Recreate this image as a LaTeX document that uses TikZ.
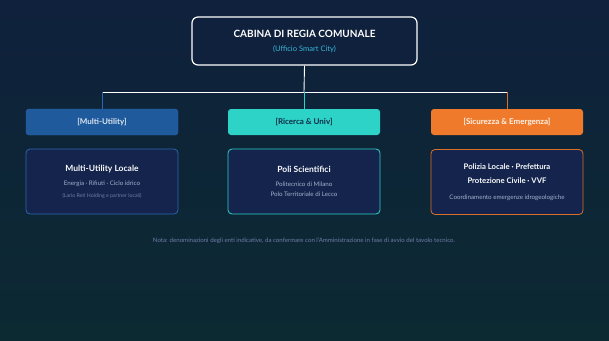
\documentclass[tikz,border=0pt]{standalone}
\usepackage{fontspec}
\setmainfont{Lato}
\usepackage{xcolor}
\usetikzlibrary{positioning}

\definecolor{bgtop}{HTML}{0F213C}
\definecolor{bgbot}{HTML}{0C2A32}
\definecolor{cardfill}{HTML}{14244C}
\definecolor{mublue}{HTML}{1F5A9C}
\definecolor{muline}{HTML}{2C66AE}
\definecolor{rteal}{HTML}{2DD3C6}
\definecolor{rtext}{HTML}{0E2A48}
\definecolor{sorange}{HTML}{F07A2B}
\definecolor{sline}{HTML}{D9702C}
\definecolor{subcyan}{HTML}{39B4D8}
\definecolor{softtxt}{HTML}{A3B2CE}
\definecolor{dimtxt}{HTML}{6E7EA8}

\tikzset{every node/.style={font=\small}}

\begin{document}
\begin{tikzpicture}[
  x=1pt, y=-1pt,
  header/.style={
    rectangle,
    rounded corners=3pt,
    minimum width=152pt,
    minimum height=26pt,
    inner sep=0pt,
    font=\bfseries\fontsize{8}{9}\selectfont
  },
  card/.style={
    draw,
    rectangle,
    rounded corners=4pt,
    fill=cardfill,
    line width=0.8pt,
    minimum width=152pt,
    minimum height=65pt,
    inner sep=0pt,
    align=center,
    text=softtxt,
    font=\fontsize{6.2}{10}\selectfont
  }
]

% background
\fill[top color=bgtop, bottom color=bgbot] (0,0) rectangle (609,340);

\node[draw=white, line width=1.2pt, rounded corners=6pt, fill=bgtop,
  minimum width=225pt, minimum height=48pt, align=center, inner sep=0pt]
  (top) at (304.5,41)
  {{\color{white}\bfseries\fontsize{10}{12}\selectfont CABINA DI REGIA COMUNALE}\\[3pt]
   {\color{subcyan}\fontsize{7.6}{8}\selectfont (Ufficio Smart City)}};

% headers
\node[header, fill=mublue, draw=muline, text=white!85!mublue] (hmu) at (102,122) {[Multi-Utility]};
\node[header, fill=rteal, text=rtext] (hru) at (304,122) {[Ricerca \& Univ]};
\node[header, fill=sorange, text=white!90!sorange] (hse) at (507,122) {[Sicurezza \& Emergenza]};

% cards
\node[card, draw=muline] (cmu) at (102,181.5)
  {{\color{white!92!softtxt}\bfseries\fontsize{8.5}{10}\selectfont Multi-Utility Locale}\\[4pt]
   Energia · Rifiuti · Ciclo idrico\\[2pt]
   {\color{dimtxt}\fontsize{5.2}{10}\selectfont (Lario Reti Holding e partner locali)}};
\node[card, draw=rteal] (cru) at (304,181.5)
  {{\color{white!92!softtxt}\bfseries\fontsize{8.5}{10}\selectfont Poli Scientifici}\\[4pt]
   Politecnico di Milano\\
   Polo Territoriale di Lecco};
\node[card, draw=sline] (cse) at (507,182)
  {{\color{white!92!softtxt}\bfseries\fontsize{7.7}{10}\selectfont Polizia Locale · Prefettura}\\[4pt]
   {\color{white!92!softtxt}\bfseries\fontsize{7.7}{10}\selectfont Protezione Civile · VVF}\\[6pt]
   Coordinamento emergenze idrogeologiche};

% connectors
\coordinate (bus) at (304,92);
\coordinate (busl) at (102,92);
\coordinate (busr) at (507,92);
\draw[white, line width=0.9pt] (top.south) -- (bus);
\draw[white, line width=0.9pt] (busl) -- (busr);
\draw[muline, line width=0.9pt] (busl) -- (hmu.north);
\draw[rteal, line width=0.9pt] (bus) -- (hru.north);
\draw[sline, line width=0.9pt] (busr) -- (hse.north);

\node[text=dimtxt, font=\fontsize{6.1}{7}\selectfont] (note) at (304,241)
  {Nota: denominazioni degli enti indicative, da confermare con l'Amministrazione in fase di avvio del tavolo tecnico.};

\end{tikzpicture}
\end{document}
